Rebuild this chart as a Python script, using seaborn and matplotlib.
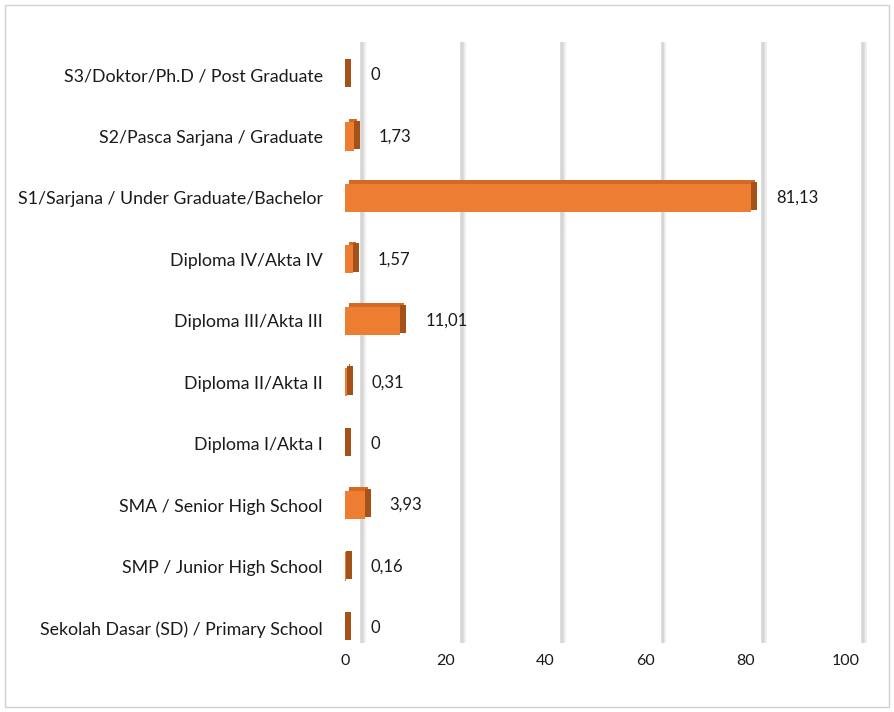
import matplotlib
matplotlib.use("Agg")
import matplotlib.pyplot as plt
import seaborn as sns
import pandas as pd
from matplotlib.patches import Rectangle

# Education level categories (top to bottom as shown)
categories = [
    "S3/Doktor/Ph.D / Post Graduate",
    "S2/Pasca Sarjana / Graduate",
    "S1/Sarjana / Under Graduate/Bachelor",
    "Diploma IV/Akta IV",
    "Diploma III/Akta III",
    "Diploma II/Akta II",
    "Diploma I/Akta I",
    "SMA / Senior High School",
    "SMP / Junior High School",
    "Sekolah Dasar (SD) / Primary School",
]
values = [0, 1.73, 81.13, 1.57, 11.01, 0.31, 0, 3.93, 0.16, 0]
x_ticks = [0, 20, 40, 60, 80, 100]

df = pd.DataFrame({"level": categories, "pct": values})

sns.set_theme(style="white")
plt.rcParams["font.family"] = ["Lato", "DejaVu Sans"]

fig = plt.figure(figsize=(8.94, 7.12), dpi=100)
ax = fig.add_axes([0.3859, 0.0969, 0.594, 0.844])

front = "#ED7D31"
top_col = "#D36A24"
side = "#A4521A"
bar_h = 0.46
dx, dy = 1.2, -0.06
grid_shift = 3.4
ylo, yhi = 9.245, -0.537

# back-wall gridlines (3D look, shifted right)
for t in x_ticks:
    ax.vlines(t + grid_shift, yhi, ylo, color="#D6D6D6", lw=2.6, zorder=0)
    ax.vlines(t + grid_shift + 0.55, yhi, ylo, color="#EDEDED", lw=1.3, zorder=0)

pos = list(range(len(values)))
# top face of the 3D bars
ax.barh([p + dy for p in pos], values, left=dx * 0.6, height=bar_h,
        color=top_col, linewidth=0, zorder=1)
# end face of the 3D bars
ax.barh([p + dy / 2 for p in pos], [dx] * len(values), left=values,
        height=bar_h, color=side, linewidth=0, zorder=1.5)

# front face
sns.barplot(data=df, x="pct", y="level", orient="h", color=front, width=bar_h,
            saturation=1, linewidth=0, ax=ax, zorder=2)

for i, v in enumerate(values):
    label = "0" if v == 0 else f"{v:.2f}".replace(".", ",")
    ax.text(v + 5.0, i, label, va="center", ha="left", fontsize=12, color="#1a1a1a")

ax.set_xlim(0, 106)
ax.set_ylim(ylo, yhi)
ax.set_xticks(x_ticks)
ax.set_xticklabels([str(t) for t in x_ticks], fontsize=11.5, color="#1a1a1a")
ax.tick_params(axis="x", length=0, pad=8)
ax.tick_params(axis="y", length=0, pad=16, labelsize=12.8, labelcolor="#1a1a1a")
ax.set_xlabel("")
ax.set_ylabel("")
for s in ax.spines.values():
    s.set_visible(False)
ax.patch.set_alpha(0)

# outer chart border
fig.patches.append(Rectangle((0.006, 0.007), 0.988, 0.986, transform=fig.transFigure,
                             fill=False, edgecolor="#D0D0D0", lw=1))

fig.savefig("out.png", dpi=100)
